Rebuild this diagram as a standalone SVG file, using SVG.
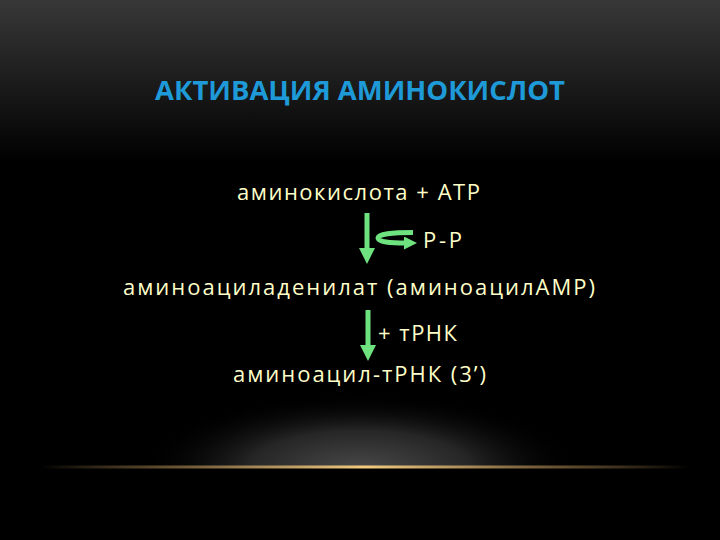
<svg xmlns="http://www.w3.org/2000/svg" width="720" height="540" viewBox="0 0 720 540">
<defs>
<linearGradient id="bg" x1="0" y1="0" x2="0" y2="1">
<stop offset="0" stop-color="#383838"/>
<stop offset="0.3" stop-color="#000000"/>
<stop offset="1" stop-color="#000000"/>
</linearGradient>
<radialGradient id="glow" cx="360" cy="468" r="220" gradientUnits="userSpaceOnUse" gradientTransform="translate(360 468) scale(1 0.34) translate(-360 -468)">
<stop offset="0" stop-color="#484848"/>
<stop offset="0.5" stop-color="#262626"/>
<stop offset="1" stop-color="#000000" stop-opacity="0"/>
</radialGradient>
<linearGradient id="gold" x1="0" y1="0" x2="1" y2="0">
<stop offset="0" stop-color="#c8a060" stop-opacity="0"/>
<stop offset="0.2" stop-color="#a88450" stop-opacity="0.6"/>
<stop offset="0.5" stop-color="#f4cc80"/>
<stop offset="0.8" stop-color="#a88450" stop-opacity="0.6"/>
<stop offset="1" stop-color="#c8a060" stop-opacity="0"/>
</linearGradient>
<marker id="ah" markerWidth="3.2" markerHeight="3.2" refX="0" refY="1.6" orient="auto" markerUnits="strokeWidth">
<path d="M0,0 L3.2,1.6 L0,3.2 Z" fill="#6ee27e"/>
</marker>
<marker id="ah2" markerWidth="2.6" markerHeight="2.6" refX="0.4" refY="1.3" orient="auto" markerUnits="strokeWidth">
<path d="M0,0 L2.6,1.3 L0,2.6 Z" fill="#6ee27e"/>
</marker>
</defs>
<style>
.t{font-family:"Open Sans","Noto Sans","DejaVu Sans",sans-serif;font-size:22px;fill:#ffffc8}
.title{font-family:"Open Sans","Noto Sans",sans-serif;font-size:26px;font-weight:bold;fill:#1e9ad8}
.arr{stroke:#6ee27e;stroke-width:5;fill:none}
</style>
<rect width="720" height="540" fill="url(#bg)"/>
<rect x="130" y="390" width="460" height="78" fill="url(#glow)"/>
<rect x="40" y="465.5" width="650" height="3" fill="url(#gold)"/>
<text class="title" x="155" y="99.5" textLength="410" lengthAdjust="spacingAndGlyphs">АКТИВАЦИЯ АМИНОКИСЛОТ</text>
<g id="n1"><text class="t" x="237" y="200" textLength="243" lengthAdjust="spacing">аминокислота + АТР</text></g>
<g id="n2"><text class="t" x="423" y="248" textLength="39" lengthAdjust="spacing">Р-Р</text></g>
<g id="n3"><text class="t" x="123" y="295" textLength="472" lengthAdjust="spacing">аминоациладенилат (аминоацилАМР)</text></g>
<g id="n4"><text class="t" x="378" y="341" textLength="79" lengthAdjust="spacing">+ тРНК</text></g>
<g id="n5"><text class="t" x="233" y="382" textLength="253" lengthAdjust="spacing">аминоацил-тРНК (3’)</text></g>
<g id="connectors">
<line class="arr" x1="367" y1="213" x2="367" y2="248" marker-end="url(#ah)"/>
<path class="arr" d="M413,232.5 C392,232.5 378,234 378,238 C378,242 390,243 406,243" stroke-width="4.5" marker-end="url(#ah2)"/>
<line class="arr" x1="368" y1="310" x2="368" y2="345" marker-end="url(#ah)"/>
</g>
</svg>
